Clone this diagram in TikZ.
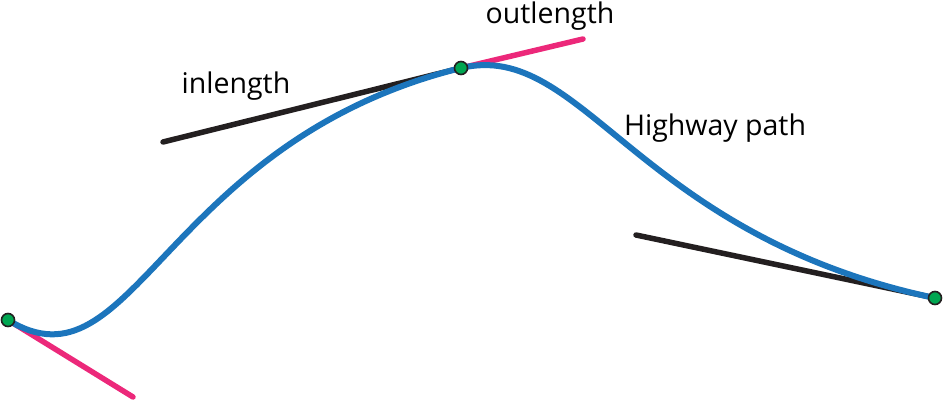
\documentclass[tikz,border=0pt]{standalone}
\usepackage{fontspec}
\setmainfont{Open Sans}
\usepackage{tikz}
\definecolor{pathblue}{RGB}{28,117,188}
\definecolor{handlepink}{RGB}{236,40,122}
\definecolor{handleblack}{RGB}{35,31,32}
\definecolor{knotgreen}{RGB}{0,166,81}

\begin{document}
\begin{tikzpicture}[x=1pt, y=-1pt,
    handle/.style={line width=5.5pt, line cap=round},
    knot/.style={circle, draw=handleblack, fill=knotgreen, line width=1.6pt,
      minimum size=13pt, inner sep=0},
    label/.style={font=\fontsize{28.5}{32}\selectfont, text=black}]
  \useasboundingbox (0,0) rectangle (944,401);

  \coordinate (start) at (8, 320);
  \coordinate (top) at (461, 68);
  \coordinate (finish) at (935, 298);

  \coordinate (out1) at (133, 397);
  \coordinate (in2) at (163, 142);
  \coordinate (out2) at (583, 39);
  \coordinate (in3) at (636, 235);

  \draw[handle, handlepink] (start) -- (out1);
  \draw[handle, handleblack] (in2) -- (top);
  \draw[handle, handlepink] (top) -- (out2);
  \draw[handle, handleblack] (in3) -- (finish);

  \draw[line width=6pt, pathblue]
    (start) .. controls (out1) and (in2) .. (top)
            .. controls (out2) and (in3) .. (finish);

  \node[knot] (a) at (start) {};
  \node[knot] (m) at (top) {};
  \node[knot] (e) at (finish) {};

  \node[label] (inlabel) at (236, 86) {inlength};
  \node[label] (outlabel) at (550, 16) {outlength};
  \node[label] (pathlabel) at (715, 128) {Highway path};
\end{tikzpicture}
\end{document}
